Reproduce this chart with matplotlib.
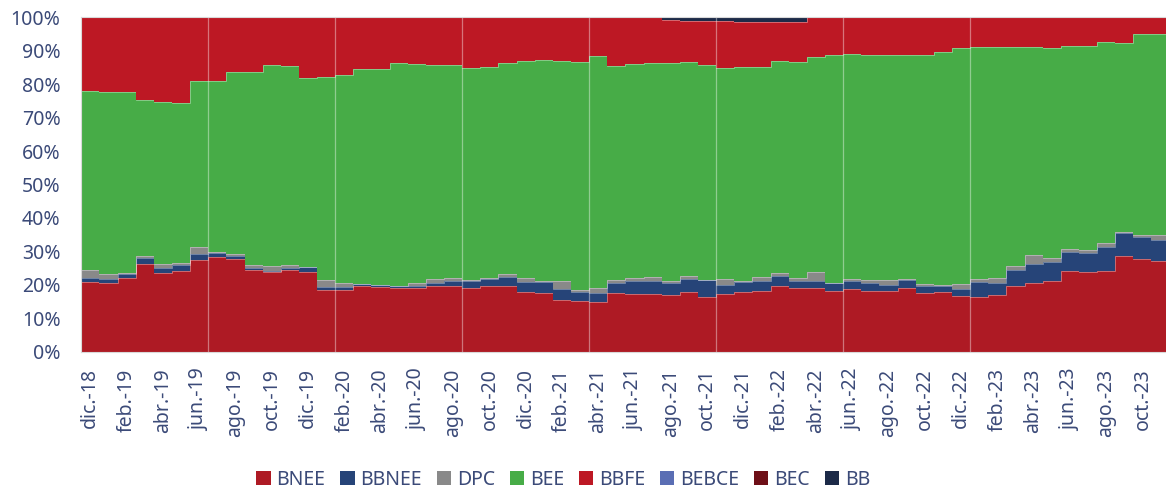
import numpy as np
import matplotlib
matplotlib.use("Agg")
import matplotlib.pyplot as plt

plt.rcParams['font.family'] = ['Noto Sans', 'DejaVu Sans']

# month labels dic.-18 .. nov.-23
meses = ['ene.', 'feb.', 'mar.', 'abr.', 'may.', 'jun.', 'jul.', 'ago.', 'sep.', 'oct.', 'nov.', 'dic.']
labels = ['dic.-18'] + [f'{m}-{y}' for y in range(19, 24) for m in meses][:59]

# shares in % of each series per month, bottom to top
bnee = [20.8, 20.5, 21.9, 26.3, 23.6, 24.1, 27.5, 28.4, 27.6, 24.3,
        23.8, 24.4, 23.8, 18.4, 18.4, 19.6, 19.3, 19.2, 19.0, 19.6,
        19.7, 19.0, 19.6, 19.6, 17.9, 17.6, 15.4, 15.3, 15.0, 17.6,
        17.2, 17.2, 16.9, 17.9, 16.4, 17.2, 17.8, 18.1, 19.6, 19.1,
        19.0, 18.2, 18.8, 18.1, 18.1, 19.1, 17.5, 17.8, 16.7, 16.5,
        16.9, 19.8, 20.6, 21.1, 24.1, 23.7, 24.2, 28.6, 27.6, 27.1]
bbnee = [1.2, 1.2, 1.2, 1.8, 1.5, 1.9, 1.7, 1.2, 0.9, 0.6,
         0.4, 0.5, 1.4, 1.0, 0.9, 0.6, 0.6, 0.4, 0.8, 1.0,
         1.5, 2.2, 2.0, 2.7, 3.0, 3.2, 3.3, 2.6, 2.6, 3.0,
         3.8, 3.9, 3.7, 3.7, 4.9, 2.7, 3.0, 3.0, 3.0, 2.0,
         2.2, 2.3, 2.4, 2.5, 1.8, 2.2, 2.1, 1.8, 2.1, 4.5,
         3.7, 4.7, 5.7, 5.8, 5.6, 5.7, 7.2, 6.8, 6.6, 6.3]
dpc = [2.4, 1.4, 0.3, 0.4, 1.1, 0.4, 2.0, 0.2, 0.6, 0.9,
       1.4, 0.9, 0.1, 1.9, 1.1, 0.1, 0.1, 0.2, 0.6, 1.0,
       0.9, 0.1, 0.4, 0.8, 1.1, 0.2, 2.3, 0.5, 1.4, 0.7,
       0.9, 1.1, 0.4, 0.9, 0.0, 1.7, 0.2, 1.1, 0.9, 1.0,
       2.5, 0.1, 0.6, 0.7, 1.5, 0.5, 0.7, 0.5, 1.4, 0.9,
       1.5, 1.2, 2.7, 1.2, 1.1, 1.1, 1.0, 0.5, 0.7, 1.4]
bee = [53.6, 54.6, 54.3, 46.8, 48.5, 47.9, 49.7, 51.3, 54.5, 57.8,
       60.1, 59.5, 56.5, 60.8, 62.3, 64.1, 64.5, 66.4, 65.7, 64.1,
       63.6, 63.5, 63.1, 63.3, 65.0, 66.2, 65.9, 68.2, 69.4, 64.1,
       64.1, 64.1, 65.3, 64.1, 64.4, 63.3, 64.1, 62.9, 63.4, 64.5,
       64.3, 68.0, 67.1, 67.4, 67.2, 67.0, 68.5, 69.4, 70.5, 69.2,
       68.9, 65.3, 62.0, 62.6, 60.5, 60.8, 60.1, 56.3, 60.0, 60.1]
bbfe = [22.1, 22.3, 22.3, 24.7, 25.3, 25.7, 19.1, 18.9, 16.4, 16.4,
        14.3, 14.7, 18.2, 17.9, 17.3, 15.6, 15.5, 13.8, 13.9, 14.3,
        14.3, 15.2, 14.9, 13.6, 13.0, 12.8, 13.1, 13.4, 11.6, 14.6,
        14.0, 13.7, 13.0, 12.4, 13.3, 13.9, 13.6, 13.6, 11.6, 11.9,
        12.0, 11.4, 11.1, 11.3, 11.4, 11.2, 11.2, 10.5, 9.3, 9.0,
        9.0, 9.0, 9.0, 9.3, 8.7, 8.7, 7.5, 7.8, 5.1, 5.1]
bebce = [0.0] * 60
bec = [0.0] * 60
bb = [0.0] * 32 + [0.7, 1.0, 1.0, 1.2, 1.3, 1.3, 1.5, 1.5] + [0.0] * 20

series = ['BNEE', 'BBNEE', 'DPC', 'BEE', 'BBFE', 'BEBCE', 'BEC', 'BB']
colors = ['#AE1A24', '#264478', '#898989', '#47AC47', '#BD1824', '#5A6EB4', '#6E0F17', '#1C2A48']

data = np.array([bnee, bbnee, dpc, bee, bbfe, bebce, bec, bb], dtype=float)
data = data / data.sum(axis=0) * 100  # 100% stacked

fig = plt.figure(figsize=(11.66, 4.90), dpi=100)
ax = fig.add_axes([0.0697, 0.2822, 0.9303, 0.6825])

n = data.shape[1]
edges = np.arange(n + 1) - 0.5
bottom = np.zeros(n)
for vals, name, col in zip(data, series, colors):
    top = bottom + vals
    ax.stairs(top, edges, baseline=bottom, fill=True, color=col, label=name, lw=0)
    if vals.max() > 0:
        ax.stairs(top, edges, baseline=None, color='white', alpha=0.35, lw=0.7)
    bottom = top

for xv in range(7, 50, 7):
    ax.axvline(xv - 0.5, color='white', alpha=0.4, lw=0.9)

ax.set_xlim(-0.5, 59.3)
ax.set_ylim(0, 100)
txt = '#3B4A78'
ax.set_yticks(np.arange(0, 101, 10))
ax.set_yticklabels([f'{v}%' for v in range(0, 101, 10)], fontsize=14, color=txt)
ax.set_xticks(np.arange(0, n, 2))
ax.set_xticklabels(labels[::2], rotation=90, fontsize=14, color=txt)
ax.tick_params(axis='y', length=0, pad=15)
ax.tick_params(axis='x', length=0, pad=12)
ax.spines['right'].set_visible(False)
for s in ['left', 'top', 'bottom']:
    ax.spines[s].set_color('#D9D9D9')
    ax.spines[s].set_linewidth(0.8)

h, l = ax.get_legend_handles_labels()
fig.legend(h, l, loc='center', bbox_to_anchor=(0.483, 0.0214), ncol=8, frameon=False,
           fontsize=14, labelcolor=txt, handlelength=0.75, handleheight=0.75,
           handletextpad=0.3, columnspacing=0.75)

fig.savefig('out.png', dpi=100)
